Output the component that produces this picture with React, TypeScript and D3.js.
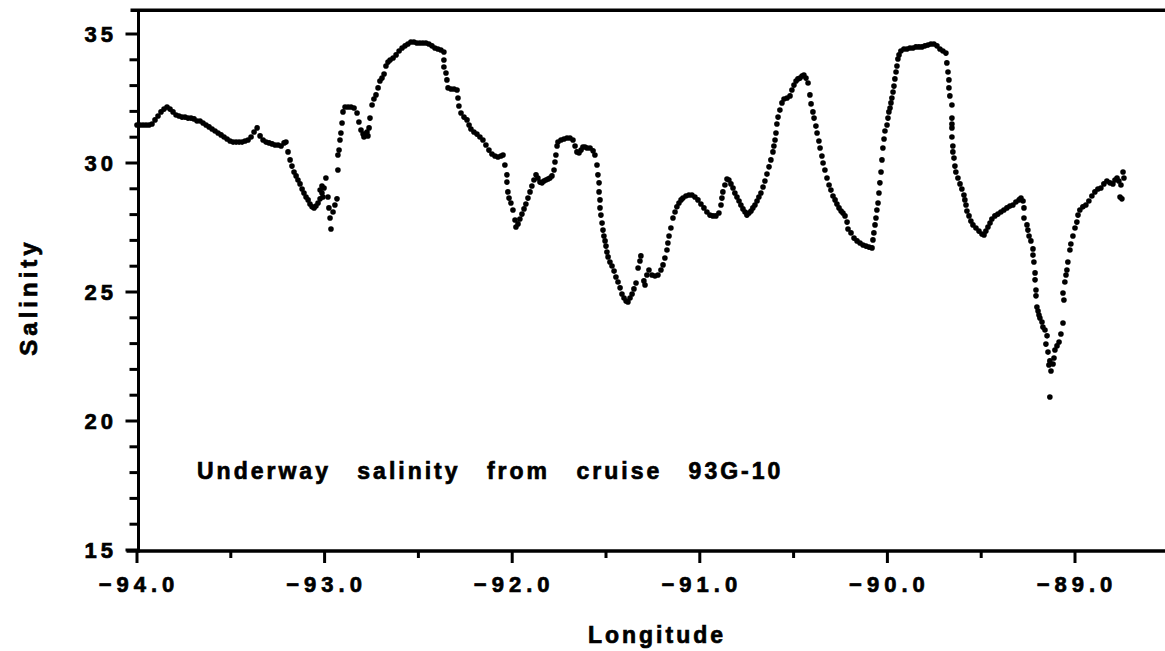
import React from "react";
import * as d3 from "d3";

// Axis ticks
const xTickValues = [-94, -93, -92, -91, -90, -89];
const xMinorValues = [-93.5, -92.5, -91.5, -90.5, -89.5];
const yTickValues = [15, 20, 25, 30, 35];
const yMinorValues = [16, 17, 18, 19, 21, 22, 23, 24, 26, 27, 28, 29, 31, 32, 33, 34];

// Underway salinity samples [longitude, salinity]
const trackWest: [number, number][] = [
  [-94.0, 31.47], [-93.984, 31.47], [-93.968, 31.47], [-93.952, 31.47], [-93.936, 31.47], [-93.92, 31.51],
  [-93.904, 31.67], [-93.888, 31.82], [-93.872, 31.98], [-93.856, 32.09], [-93.84, 32.17], [-93.824, 32.09],
  [-93.808, 31.98], [-93.792, 31.86], [-93.776, 31.82], [-93.76, 31.78], [-93.744, 31.78], [-93.728, 31.74],
  [-93.712, 31.74], [-93.696, 31.71], [-93.68, 31.63], [-93.664, 31.63], [-93.648, 31.55], [-93.632, 31.47],
  [-93.616, 31.4], [-93.6, 31.32], [-93.584, 31.24], [-93.568, 31.16], [-93.552, 31.09], [-93.536, 31.01],
  [-93.52, 30.93], [-93.504, 30.85], [-93.488, 30.81], [-93.472, 30.81], [-93.456, 30.81], [-93.44, 30.81],
  [-93.424, 30.85], [-93.408, 30.89], [-93.392, 31.01], [-93.376, 31.2], [-93.36, 31.36], [-93.344, 31.05],
  [-93.328, 30.89], [-93.312, 30.81], [-93.296, 30.78], [-93.28, 30.74], [-93.264, 30.7], [-93.248, 30.7],
  [-93.232, 30.66], [-93.216, 30.78], [-93.206, 30.81], [-93.195, 30.43], [-93.184, 30.12], [-93.174, 29.88],
  [-93.163, 29.65], [-93.152, 29.5], [-93.142, 29.34], [-93.131, 29.19], [-93.12, 28.99], [-93.11, 28.84],
  [-93.099, 28.68], [-93.088, 28.57], [-93.078, 28.41], [-93.067, 28.3], [-93.056, 28.26], [-93.046, 28.33],
  [-93.035, 28.45], [-93.024, 28.61], [-93.014, 28.84], [-93.003, 29.03],
  [-93.024, 28.95], [-93.014, 29.11], [-93.009, 28.68], [-92.993, 29.42],
  [-92.982, 28.68], [-92.977, 28.26], [-92.971, 27.87], [-92.966, 27.44], [-92.955, 28.1], [-92.945, 28.37],
  [-92.934, 28.61], [-92.929, 29.73], [-92.929, 30.31], [-92.923, 30.5], [-92.918, 30.89], [-92.913, 31.16],
  [-92.907, 31.55], [-92.902, 31.98], [-92.891, 32.17], [-92.875, 32.17], [-92.859, 32.17], [-92.843, 32.13],
  [-92.827, 31.94], [-92.817, 31.59], [-92.806, 31.28], [-92.795, 31.12], [-92.79, 31.01], [-92.785, 31.12],
  [-92.774, 31.2], [-92.769, 31.05], [-92.763, 31.36], [-92.758, 31.74], [-92.747, 32.25], [-92.737, 32.48],
  [-92.726, 32.64], [-92.715, 32.91], [-92.705, 33.18], [-92.694, 33.29], [-92.683, 33.45], [-92.673, 33.76],
  [-92.662, 33.91], [-92.651, 33.99], [-92.635, 34.07], [-92.619, 34.19], [-92.603, 34.34], [-92.587, 34.46],
  [-92.571, 34.54], [-92.556, 34.61], [-92.54, 34.69], [-92.524, 34.69], [-92.508, 34.65], [-92.492, 34.65],
  [-92.476, 34.65], [-92.46, 34.65], [-92.444, 34.61], [-92.428, 34.54], [-92.412, 34.46], [-92.396, 34.42],
  [-92.38, 34.38], [-92.364, 34.3], [-92.364, 33.99], [-92.364, 33.72], [-92.353, 33.49], [-92.348, 33.22],
  [-92.342, 32.91], [-92.326, 32.87], [-92.31, 32.87], [-92.294, 32.83], [-92.289, 32.52], [-92.284, 32.21],
  [-92.273, 31.94], [-92.257, 31.78], [-92.241, 31.67], [-92.23, 31.47], [-92.22, 31.32], [-92.204, 31.2],
  [-92.188, 31.12], [-92.172, 31.01], [-92.156, 30.89], [-92.14, 30.7], [-92.124, 30.5], [-92.108, 30.35],
  [-92.092, 30.27], [-92.076, 30.23], [-92.06, 30.27], [-92.049, 30.31], [-92.039, 29.92], [-92.028, 29.54],
  [-92.028, 29.26], [-92.023, 28.88], [-92.017, 28.64], [-92.007, 28.45], [-91.996, 28.18],
];

const trackMid: [number, number][] = [
  [-91.985, 27.79], [-91.98, 27.52], [-91.969, 27.64], [-91.959, 27.83], [-91.948, 28.02], [-91.937, 28.22],
  [-91.927, 28.41], [-91.916, 28.64], [-91.905, 28.88], [-91.895, 29.11], [-91.884, 29.34], [-91.873, 29.54],
  [-91.863, 29.42], [-91.852, 29.26], [-91.841, 29.23], [-91.831, 29.3], [-91.82, 29.34], [-91.809, 29.38],
  [-91.799, 29.42], [-91.788, 29.5], [-91.777, 29.73], [-91.772, 30.04], [-91.767, 30.31], [-91.761, 30.66],
  [-91.756, 30.81], [-91.74, 30.89], [-91.724, 30.93], [-91.708, 30.97], [-91.692, 30.97], [-91.676, 30.89],
  [-91.665, 30.66], [-91.655, 30.43], [-91.644, 30.39], [-91.633, 30.5], [-91.623, 30.62], [-91.612, 30.62],
  [-91.601, 30.58], [-91.585, 30.58], [-91.569, 30.47], [-91.559, 30.31], [-91.548, 29.92], [-91.543, 29.54],
  [-91.537, 29.23], [-91.537, 28.88], [-91.532, 28.57], [-91.532, 28.26], [-91.527, 27.98], [-91.521, 27.67],
  [-91.516, 27.4], [-91.511, 27.17], [-91.505, 26.98], [-91.5, 26.78], [-91.495, 26.55], [-91.489, 26.36],
  [-91.479, 26.16], [-91.468, 26.01], [-91.457, 25.81], [-91.447, 25.58], [-91.436, 25.39], [-91.425, 25.16],
  [-91.415, 24.92], [-91.404, 24.77], [-91.393, 24.65], [-91.383, 24.61], [-91.372, 24.77], [-91.361, 24.92],
  [-91.351, 25.12], [-91.34, 25.35], [-91.329, 25.93], [-91.319, 26.2], [-91.314, 26.4], [-91.298, 25.43],
  [-91.292, 25.27], [-91.282, 25.66], [-91.271, 25.85], [-91.255, 25.66], [-91.239, 25.62], [-91.223, 25.66],
  [-91.207, 25.85], [-91.196, 26.05], [-91.186, 26.32], [-91.175, 26.63], [-91.17, 26.9], [-91.164, 27.17],
  [-91.154, 27.48], [-91.143, 27.87], [-91.132, 28.1], [-91.122, 28.3], [-91.111, 28.45], [-91.1, 28.57],
  [-91.09, 28.64], [-91.074, 28.72], [-91.058, 28.76], [-91.042, 28.76], [-91.026, 28.68], [-91.01, 28.57],
  [-90.994, 28.41], [-90.978, 28.26], [-90.962, 28.1], [-90.946, 27.98], [-90.93, 27.95], [-90.914, 27.95],
  [-90.898, 28.06], [-90.887, 28.37], [-90.882, 28.64], [-90.877, 28.88], [-90.866, 29.15], [-90.855, 29.38],
  [-90.845, 29.34], [-90.834, 29.19], [-90.823, 29.03], [-90.813, 28.84], [-90.802, 28.68], [-90.791, 28.53],
  [-90.781, 28.37], [-90.77, 28.22], [-90.759, 28.1], [-90.749, 27.98], [-90.738, 28.06], [-90.727, 28.14],
  [-90.717, 28.26], [-90.706, 28.37], [-90.695, 28.53], [-90.685, 28.68], [-90.674, 28.84], [-90.663, 29.07],
  [-90.653, 29.3], [-90.642, 29.57], [-90.631, 29.85], [-90.621, 30.12], [-90.61, 30.43], [-90.605, 30.66],
  [-90.599, 30.89], [-90.594, 31.16], [-90.589, 31.51], [-90.583, 31.78], [-90.573, 32.05], [-90.562, 32.33],
  [-90.551, 32.48], [-90.535, 32.52], [-90.519, 32.6], [-90.509, 32.83], [-90.498, 33.02], [-90.487, 33.18],
  [-90.477, 33.26], [-90.466, 33.29], [-90.455, 33.37], [-90.445, 33.41], [-90.434, 33.29], [-90.423, 33.1],
  [-90.413, 32.64], [-90.407, 32.29], [-90.397, 31.98], [-90.391, 31.74], [-90.381, 31.43], [-90.375, 31.16],
  [-90.365, 30.85], [-90.359, 30.58], [-90.349, 30.27], [-90.343, 30.0], [-90.333, 29.73], [-90.322, 29.42],
  [-90.311, 29.15], [-90.301, 28.95], [-90.29, 28.72], [-90.279, 28.57], [-90.269, 28.41], [-90.258, 28.26],
  [-90.247, 28.14], [-90.237, 28.06], [-90.226, 27.95], [-90.215, 27.71], [-90.21, 27.44], [-90.194, 27.29],
  [-90.178, 27.09],
];

const trackEast: [number, number][] = [
  [-90.162, 26.98], [-90.146, 26.9], [-90.13, 26.82], [-90.114, 26.78], [-90.098, 26.74], [-90.082, 26.71],
  [-90.077, 27.02], [-90.072, 27.29], [-90.066, 27.6], [-90.061, 27.87], [-90.056, 28.18], [-90.05, 28.45],
  [-90.045, 28.84], [-90.04, 29.23], [-90.034, 29.65], [-90.029, 30.12], [-90.024, 30.58], [-90.018, 30.93],
  [-90.013, 31.24], [-90.002, 31.47], [-89.997, 31.74], [-89.992, 31.98], [-89.986, 32.13], [-89.981, 32.33],
  [-89.976, 32.52], [-89.97, 32.75], [-89.965, 32.98], [-89.96, 33.26], [-89.954, 33.53], [-89.949, 33.76],
  [-89.944, 34.03], [-89.938, 34.19], [-89.928, 34.34], [-89.912, 34.42], [-89.896, 34.42], [-89.88, 34.46],
  [-89.864, 34.46], [-89.848, 34.5], [-89.832, 34.5], [-89.816, 34.5], [-89.8, 34.54], [-89.784, 34.57],
  [-89.768, 34.61], [-89.752, 34.61], [-89.736, 34.54], [-89.72, 34.42], [-89.704, 34.34], [-89.688, 34.26],
  [-89.683, 33.88], [-89.677, 33.53], [-89.672, 33.22], [-89.672, 32.91], [-89.667, 32.6], [-89.656, 32.25],
  [-89.656, 31.74], [-89.656, 31.51], [-89.656, 31.36], [-89.656, 31.01], [-89.651, 30.66], [-89.651, 30.43],
  [-89.645, 30.19], [-89.64, 29.88], [-89.635, 29.65], [-89.624, 29.42], [-89.613, 29.19], [-89.603, 28.99],
  [-89.592, 28.76], [-89.587, 28.57], [-89.581, 28.37], [-89.576, 28.14], [-89.565, 27.95], [-89.555, 27.75],
  [-89.544, 27.6], [-89.528, 27.48], [-89.512, 27.36], [-89.496, 27.25], [-89.485, 27.21], [-89.475, 27.36],
  [-89.464, 27.52], [-89.453, 27.67], [-89.443, 27.83], [-89.427, 27.95], [-89.411, 28.02], [-89.395, 28.1],
  [-89.379, 28.18], [-89.363, 28.26], [-89.347, 28.33], [-89.331, 28.37], [-89.315, 28.49], [-89.299, 28.57],
  [-89.288, 28.64], [-89.277, 28.53], [-89.272, 28.26], [-89.272, 27.87], [-89.256, 27.6], [-89.251, 27.4],
  [-89.245, 27.17], [-89.235, 26.98], [-89.224, 26.67], [-89.224, 26.43], [-89.219, 26.16], [-89.213, 25.74],
  [-89.213, 25.47], [-89.208, 25.08], [-89.208, 24.85], [-89.203, 24.42], [-89.197, 24.26], [-89.192, 24.11],
  [-89.187, 23.99], [-89.176, 23.84], [-89.171, 23.64], [-89.16, 23.53], [-89.149, 23.3], [-89.155, 22.98],
  [-89.144, 22.67], [-89.134, 22.33], [-89.139, 22.17], [-89.128, 21.94], [-89.134, 20.93], [-89.117, 22.21],
  [-89.112, 22.44], [-89.107, 22.75], [-89.096, 22.91], [-89.085, 23.06], [-89.075, 23.37], [-89.064, 23.8],
  [-89.059, 24.69], [-89.064, 24.96], [-89.054, 25.39], [-89.048, 25.66], [-89.043, 25.85], [-89.038, 26.16],
  [-89.027, 26.63], [-89.022, 26.86], [-89.011, 27.17], [-89.0, 27.48], [-88.99, 27.71], [-88.984, 27.98],
  [-88.974, 28.18], [-88.958, 28.3], [-88.942, 28.37], [-88.926, 28.53], [-88.91, 28.72], [-88.894, 28.88],
  [-88.878, 28.99], [-88.862, 29.03], [-88.846, 29.19], [-88.83, 29.3], [-88.814, 29.23], [-88.798, 29.19],
  [-88.787, 29.34], [-88.776, 29.42], [-88.766, 29.3], [-88.755, 29.15], [-88.76, 28.68], [-88.75, 28.61],
  [-88.744, 29.65], [-88.739, 29.42],
];

const xTitle = "Longitude";
const yTitle = "Salinity";
const note = "Underway salinity from cruise 93G-10";

export default function App() {
  const W = 1165;
  const H = 651;
  const x = d3.scaleLinear().domain([-94, -89]).range([137, 1075]);
  const y = d3.scaleLinear().domain([15, 35]).range([550, 34]);
  const data = [...trackWest, ...trackMid, ...trackEast];
  const font = "'Liberation Sans', Arial, Helvetica, sans-serif";
  const axisX = x(-94) + 1.5;
  const bottomY = y(15) + 1;
  const topY = y(36) + 2;
  const fmt = d3.format(".1f");
  const heavy = { stroke: "#000", strokeWidth: 0.7 };

  return (
    <svg
      width={W}
      height={H}
      viewBox={`0 0 ${W} ${H}`}
      style={{ position: "absolute", left: 0, top: 0, background: "#fff" }}
    >
      <rect x={0} y={0} width={W} height={H} fill="#fff" />
      {/* frame lines */}
      <line x1={axisX - 8} x2={W} y1={topY} y2={topY} stroke="#000" strokeWidth={3.5} />
      <line x1={axisX - 12} x2={W} y1={bottomY} y2={bottomY} stroke="#000" strokeWidth={3.5} />
      <line x1={axisX} x2={axisX} y1={topY} y2={bottomY + 1.5} stroke="#000" strokeWidth={3} />

      {/* y ticks */}
      {yMinorValues.map((v) => (
        <line key={"ym" + v} x1={axisX - 9} x2={axisX} y1={y(v)} y2={y(v)} stroke="#000" strokeWidth={3} />
      ))}
      {yTickValues.map((v) => (
        <g key={"yt" + v}>
          <line x1={axisX - 13} x2={axisX} y1={y(v)} y2={y(v)} stroke="#000" strokeWidth={3} />
          <text
            x={117}
            y={y(v) + 8}
            textAnchor="end"
            fontFamily={font}
            fontWeight="bold"
            fontSize={22}
            letterSpacing={4}
            fill="#000"
            {...heavy}
          >
            {v}
          </text>
        </g>
      ))}

      {/* x ticks */}
      {xMinorValues.map((v) => (
        <line key={"xm" + v} x1={x(v)} x2={x(v)} y1={bottomY} y2={bottomY + 7} stroke="#000" strokeWidth={3} />
      ))}
      {xTickValues.map((v) => (
        <g key={"xt" + v}>
          <line x1={x(v)} x2={x(v)} y1={bottomY} y2={bottomY + 12} stroke="#000" strokeWidth={3} />
          <text
            x={x(v) + 2}
            y={592}
            textAnchor="middle"
            fontFamily={font}
            fontWeight="bold"
            fontSize={22}
            letterSpacing={5}
            fill="#000"
            {...heavy}
          >
            {fmt(v)}
          </text>
        </g>
      ))}

      {/* axis titles */}
      <text
        x={657}
        y={643}
        textAnchor="middle"
        fontFamily={font}
        fontWeight="bold"
        fontSize={23}
        letterSpacing={3}
        fill="#000"
        {...heavy}
      >
        {xTitle}
      </text>
      <text
        transform={`translate(37, 297) rotate(-90)`}
        textAnchor="middle"
        fontFamily={font}
        fontWeight="bold"
        fontSize={24}
        letterSpacing={4}
        fill="#000"
        {...heavy}
      >
        {yTitle}
      </text>

      {/* annotation */}
      <text
        x={197}
        y={479}
        fontFamily={font}
        fontWeight="bold"
        fontSize={23}
        letterSpacing={3}
        wordSpacing={17}
        fill="#000"
        {...heavy}
      >
        {note}
      </text>

      {/* data points */}
      <g fill="#000">
        {data.map((d, i) => (
          <circle key={i} cx={x(d[0])} cy={y(d[1])} r={2.8} />
        ))}
      </g>
    </svg>
  );
}
